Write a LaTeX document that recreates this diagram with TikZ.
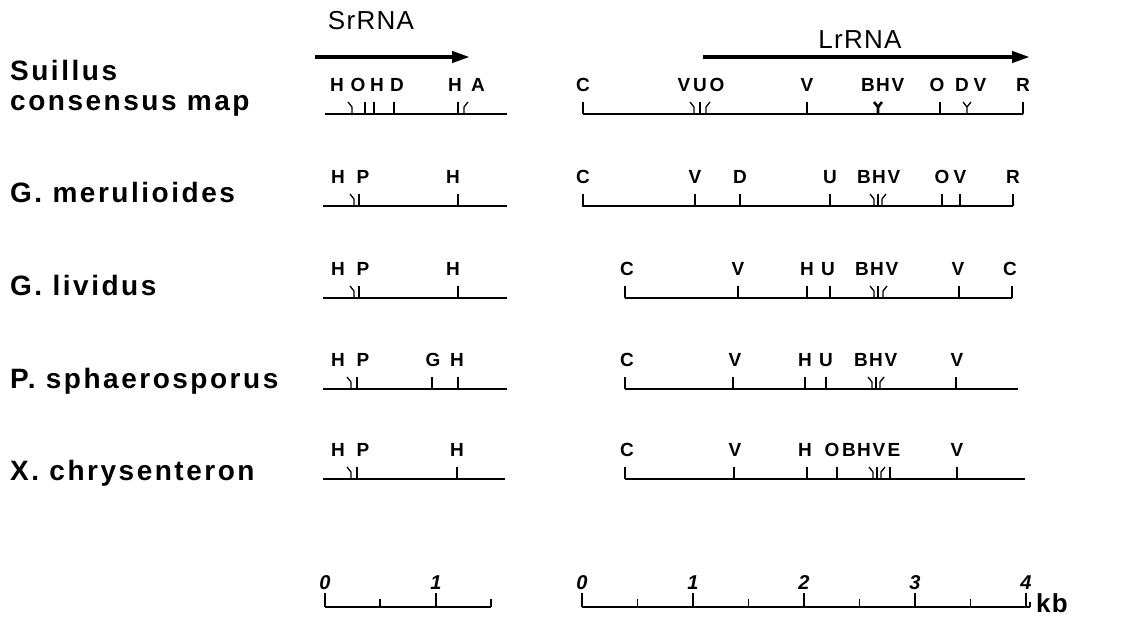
\documentclass[tikz,border=0pt]{standalone}
\usepackage{fontspec}
\setmainfont{Liberation Sans}
\newfontfamily\labfont[LetterSpace=9]{Liberation Sans}
\newfontfamily\hdfont[LetterSpace=5]{Liberation Sans}
\usetikzlibrary{arrows.meta}
\newcommand\tk[2]{\draw[tick] (#1,#2) -- ++(0,-12);}
\newcommand\tkl[2]{\draw[tick] (#1,#2) -- ++(0,-7) -- ++(-4,-5);}
\newcommand\tkr[2]{\draw[tick] (#1,#2) -- ++(0,-7) -- ++(4,-5);}
\newcommand\tky[3]{\draw[tick,line width=#3] (#1,#2) -- ++(0,-7) -- ++(-4,-5); \draw[tick,line width=#3] (#1,#2-7) -- ++(4,-5);}
\tikzset{
  base/.style={line width=1.8pt},
  tick/.style={line width=1.3pt},
  lt/.style={font=\bfseries\fontsize{19}{19}\selectfont, inner sep=0pt},
  sp/.style={font=\labfont\bfseries\fontsize{28}{28}\selectfont, anchor=base west, inner sep=0pt},
  hd/.style={font=\hdfont\fontsize{26}{26}\selectfont, inner sep=0pt},
  num/.style={font=\bfseries\itshape\fontsize{20}{20}\selectfont, inner sep=0pt},
  arr/.style={line width=4pt, -{Triangle[length=18pt,width=11pt]}},
}
\begin{document}
\begin{tikzpicture}[x=1pt,y=-1pt]
\useasboundingbox (0,0) rectangle (1132,619);
\fill[white] (0,0) rectangle (1132,619);
% headers
\node[hd] (srt) at (371,21) {SrRNA};
\node[hd] (lrt) at (860,40) {LrRNA};
\coordinate (sa) at (315,57); \coordinate (sb) at (470,57);
\coordinate (la) at (703,57); \coordinate (lb) at (1030,57);
\draw[arr] (sa) -- (sb);
\draw[arr] (la) -- (lb);
% species labels
\node[sp] (s1a) at (10,80) {Suillus};
\node[sp] (s1b) at (10,110) {consensus map};
\node[sp] (s2) at (10,202) {G. merulioides};
\node[sp] (s3) at (10,295) {G. lividus};
\node[sp] (s4) at (10,388) {P. sphaerosporus};
\node[sp] (s5) at (10,480) {X. chrysenteron};
% ---- row 1 (base 114)
\draw[base] (325,114) -- (507,114);
\draw[base] (583,114) -- (1023,114);
\tkl{352}{114} \tk{365}{114} \tk{374}{114} \tk{394}{114} \tk{458}{114} \tkr{464}{114}
\tk{583}{114} \tkl{694}{114} \tk{700}{114} \tkr{706}{114} \tk{807}{114}
\tky{878}{114}{2.6pt} \tk{940}{114} \tky{967}{114}{1.3pt} \tk{1023}{114}
\node[lt] (a1) at (337,85) {H};
\node[lt] (a2) at (358,85) {O};
\node[lt] (a3) at (377,85) {H};
\node[lt] (a4) at (397,85) {D};
\node[lt] (a5) at (455,85) {H};
\node[lt] (a6) at (478,85) {A};
\node[lt] (a7) at (583,85) {C};
\node[lt] (a8) at (684,85) {V};
\node[lt] (a9) at (700,85) {U};
\node[lt] (a10) at (717,85) {O};
\node[lt] (a11) at (807,85) {V};
\node[lt] (a12) at (868,85) {B};
\node[lt] (a13) at (883,85) {H};
\node[lt] (a14) at (898,85) {V};
\node[lt] (a15) at (937,85) {O};
\node[lt] (a16) at (962,85) {D};
\node[lt] (a17) at (980,85) {V};
\node[lt] (a18) at (1023,85) {R};
% ---- row 2 (base 206)
\draw[base] (323,206) -- (507,206);
\draw[base] (582,206) -- (1013,206);
\tkl{354}{206} \tk{359}{206} \tk{458}{206}
\tk{583}{206} \tk{695}{206} \tk{740}{206} \tk{830}{206}
\tkl{874}{206} \tk{878}{206} \tkr{882}{206} \tk{942}{206} \tk{960}{206} \tk{1013}{206}
\node[lt] (b1) at (338,177) {H};
\node[lt] (b2) at (363,177) {P};
\node[lt] (b3) at (453,177) {H};
\node[lt] (b4) at (583,177) {C};
\node[lt] (b5) at (695,177) {V};
\node[lt] (b6) at (740,177) {D};
\node[lt] (b7) at (830,177) {U};
\node[lt] (b8) at (864,177) {B};
\node[lt] (b9) at (879,177) {H};
\node[lt] (b10) at (894,177) {V};
\node[lt] (b11) at (942,177) {O};
\node[lt] (b12) at (960,177) {V};
\node[lt] (b13) at (1013,177) {R};
% ---- row 3 (base 298)
\draw[base] (323,298) -- (507,298);
\draw[base] (625,298) -- (1012,298);
\tkl{354}{298} \tk{359}{298} \tk{458}{298}
\tk{625}{298} \tk{738}{298} \tk{807}{298} \tk{830}{298}
\tkl{874}{298} \tk{878}{298} \tkr{883}{298} \tk{959}{298} \tk{1012}{298}
\node[lt] (c1) at (338,269) {H};
\node[lt] (c2) at (363,269) {P};
\node[lt] (c3) at (453,269) {H};
\node[lt] (c4) at (627,269) {C};
\node[lt] (c5) at (738,269) {V};
\node[lt] (c6) at (807,269) {H};
\node[lt] (c7) at (828,269) {U};
\node[lt] (c8) at (862,269) {B};
\node[lt] (c9) at (877,269) {H};
\node[lt] (c10) at (892,269) {V};
\node[lt] (c11) at (958,269) {V};
\node[lt] (c12) at (1010,269) {C};
% ---- row 4 (base 389)
\draw[base] (323,389) -- (507,389);
\draw[base] (625,389) -- (1018,389);
\tkl{351}{389} \tk{357}{389} \tk{432}{389} \tk{458}{389}
\tk{625}{389} \tk{733}{389} \tk{805}{389} \tk{826}{389}
\tkl{872}{389} \tk{876}{389} \tkr{880}{389} \tk{956}{389}
\node[lt] (d1) at (338,360) {H};
\node[lt] (d2) at (363,360) {P};
\node[lt] (d3) at (433,360) {G};
\node[lt] (d4) at (457,360) {H};
\node[lt] (d5) at (627,360) {C};
\node[lt] (d6) at (735,360) {V};
\node[lt] (d7) at (805,360) {H};
\node[lt] (d8) at (826,360) {U};
\node[lt] (d9) at (861,360) {B};
\node[lt] (d10) at (876,360) {H};
\node[lt] (d11) at (891,360) {V};
\node[lt] (d12) at (957,360) {V};
% ---- row 5 (base 479)
\draw[base] (323,479) -- (505,479);
\draw[base] (625,479) -- (1025,479);
\tkl{351}{479} \tk{357}{479} \tk{457}{479}
\tk{625}{479} \tk{734}{479} \tk{807}{479} \tk{837}{479}
\tkl{873}{479} \tk{877}{479} \tkr{881}{479} \tk{890}{479} \tk{957}{479}
\node[lt] (e1) at (338,450) {H};
\node[lt] (e2) at (363,450) {P};
\node[lt] (e3) at (457,450) {H};
\node[lt] (e4) at (627,450) {C};
\node[lt] (e5) at (735,450) {V};
\node[lt] (e6) at (805,450) {H};
\node[lt] (e7) at (832,450) {O};
\node[lt] (e8) at (849,450) {B};
\node[lt] (e9) at (864,450) {H};
\node[lt] (e10) at (879,450) {V};
\node[lt] (e11) at (894,450) {E};
\node[lt] (e12) at (957,450) {V};
% ---- scale bars
\draw[base] (325,607) -- (491,607);
\draw[tick] (325,607) -- ++(0,-14);
\draw[tick] (380,607) -- ++(0,-8);
\draw[tick] (436,607) -- ++(0,-14);
\draw[tick] (491,607) -- ++(0,-8);
\node[num] (n0) at (325,583) {0};
\node[num] (n1) at (436,583) {1};
\draw[base] (582,607) -- (1030,607);
\foreach \k in {0,1,2,3,4} {\draw[tick] (582+111*\k,607) -- ++(0,-14);}
\foreach \k in {0,1,2,3} {\draw[tick] (637.5+111*\k,607) -- ++(0,-8);}
\draw[tick] (1030,607) -- ++(0,-5);
\node[num] (m0) at (582,583) {0};
\node[num] (m1) at (693,583) {1};
\node[num] (m2) at (804,583) {2};
\node[num] (m3) at (915,583) {3};
\node[num] (m4) at (1026,583) {4};
\node[anchor=west, inner sep=0pt, font=\hdfont\bfseries\fontsize{26}{26}\selectfont] (kb) at (1036,603) {kb};
\end{tikzpicture}
\end{document}
